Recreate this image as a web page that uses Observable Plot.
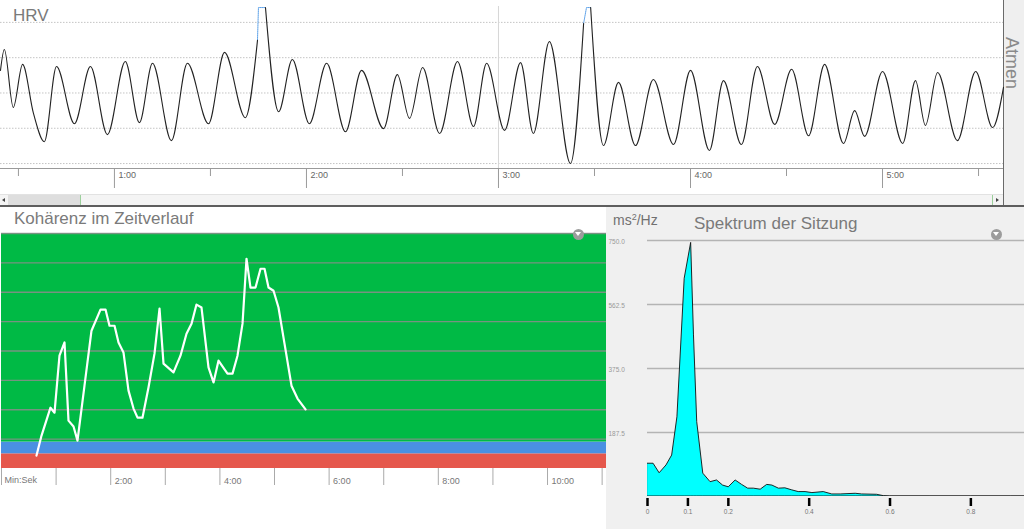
<!DOCTYPE html>
<html>
<head>
<meta charset="utf-8">
<script src="https://cdn.jsdelivr.net/npm/d3@7"></script>
<script src="https://cdn.jsdelivr.net/npm/@observablehq/plot@0.6"></script>
<style>
  html, body { margin:0; padding:0; background:#fff; }
  #root { position:relative; width:1024px; height:529px; overflow:hidden; background:#fff; font-family:"Liberation Sans", Arial, sans-serif; }
  .abs { position:absolute; }
  .title { position:absolute; font-size:17px; line-height:1; color:#7a7a7a; white-space:nowrap; }
  .icon { position:absolute; width:11px; height:11px; border-radius:50%; background:#9c9c9c; }
  .icon::after { content:""; position:absolute; left:2.5px; top:3.5px; border-left:3px solid transparent; border-right:3px solid transparent; border-top:4px solid #fff; }
</style>
</head>
<body>
<div id="root">
  <div class="abs" style="left:1003px;top:0;width:21px;height:205px;background:#efefef"></div>
  <div class="abs" style="left:1003px;top:0;width:1px;height:205px;background:#6a6a6a"></div>
  <div class="abs" style="left:1012px;top:63px;transform:translate(-50%,-50%) rotate(90deg);font-size:18px;line-height:1;color:#8a8a8a;white-space:nowrap">Atmen</div>
  <div class="abs" style="left:0;top:194px;width:1003px;height:11px;background:#f4f4f4;border-top:1px solid #e2e2e2;box-sizing:border-box"></div>
  <div class="abs" style="left:8px;top:195px;width:72px;height:10px;background:#dedede;border-right:1px solid #9ccf9c"></div>
  <div class="abs" style="left:2px;top:198px;width:0;height:0;border-top:2.5px solid transparent;border-bottom:2.5px solid transparent;border-right:3px solid #444"></div>
  <div class="abs" style="left:992px;top:195px;width:11px;height:10px;border-left:1px solid #9ccf9c;box-sizing:border-box"></div>
  <div class="abs" style="left:996px;top:198px;width:0;height:0;border-top:2.5px solid transparent;border-bottom:2.5px solid transparent;border-left:3px solid #444"></div>
  <div class="abs" style="left:0;top:205px;width:1024px;height:2px;background:#5e5e5e"></div>
  <div class="abs" style="left:606px;top:207px;width:418px;height:322px;background:#f0f0f0"></div>

  <div id="hrv" class="abs" style="left:0;top:0"></div>
  <div id="coh" class="abs" style="left:0;top:207px"></div>
  <div id="spec" class="abs" style="left:606px;top:207px"></div>

  <div class="title" style="left:13px;top:7px">HRV</div>
  <div class="title" style="left:14px;top:209.5px">Kohärenz im Zeitverlauf</div>
  <div class="title" style="left:694px;top:214.5px">Spektrum der Sitzung</div>
  <div class="title" style="left:613px;top:213px;font-size:14px;color:#707070">ms<sup style="font-size:9px;vertical-align:5px;line-height:0">2</sup>/Hz</div>
  <div class="icon" style="left:572.5px;top:228.5px"></div>
  <div class="icon" style="left:990.5px;top:228.5px"></div>
</div>
<script>
// ---------- HRV (seconds, bpm) ----------
const hrvT = [24.4, 25.6, 28.4, 31.3, 34.7, 38.1, 41.9, 47.5, 52.5, 57.8, 63.4, 67.8, 71.9, 77.8, 82.8, 89.4, 94.4, 100.9, 104.7,
  107.2, 111.3, 115.6, 120.9, 126.3, 132.2, 137.2, 144.1, 148.4, 152.2, 156.3, 161.6, 167.2, 172.2, 176.3, 181.9, 186.9, 190.9, 195.9, 202.5, 206.6,
  208.8, 212.8, 217.5, 222.8, 228.4, 234.7, 240.0, 245.9, 250.3, 255.9, 260.9, 266.3, 271.6, 276.9, 281.9, 287.8, 291.3, 294.4, 300.0, 306.3, 310.3, 313.4, 317.2, 323.4, 329.1, 334.4, 337.8];
const hrvV = [76.4, 82.3, 65.9, 78.1, 64.2, 56.2, 77.5, 61.3, 77.5, 58.2, 78.9, 61.6, 78.4, 56.5, 78.4, 61.3, 81.5, 63.0, 84.9,
  94.2, 64.7, 79.5, 61.3, 78.4, 59.0, 76.4, 59.9, 75.2, 62.8, 77.2, 58.5, 78.9, 60.5, 78.4, 59.4, 78.6, 58.5, 84.6, 50.0, 89.7,
  94.2, 55.1, 73.0, 55.1, 73.8, 55.4, 76.4, 53.7, 73.5, 55.4, 77.5, 61.1, 76.7, 57.9, 78.1, 55.7, 65.0, 57.7, 76.1, 55.7, 73.5, 60.8, 75.8, 56.5, 76.1, 60.2, 71.6];
const hrvBreaks = [19, 40];           // indices where a new line segment starts (after a clipped peak)
const clipT = [104.7, 105.0, 107.2, 206.6, 207.5, 208.8];
const clipV = [84.9, 94.2, 94.2, 89.7, 94.2, 94.2];
const clipSeg = [0, 0, 0, 1, 1, 1];
const hrvGrid = [50, 60, 70, 80, 90];
const hrvCursor = [180];
const hrvMajor = [60, 120, 180, 240, 300];
const hrvMinor = [30, 90, 150, 210, 270, 330];
const hrvXDomain = [24.4, 337.8];
const hrvYDomain = [48.6, 94.5];

// ---------- Coherence (minutes, score) ----------
const cohMin = [0.641,0.733,0.897,0.971,1.062,1.154,1.227,1.319,1.392,1.520,1.648,1.813,1.905,1.978,2.070,2.143,2.234,2.326,2.418,2.491,2.582,2.692,2.802,2.894,2.967,3.150,3.278,3.388,3.480,3.571,3.663,3.791,3.883,3.974,4.139,4.231,4.322,4.414,4.487,4.560,4.652,4.744,4.817,4.890,4.982,5.073,5.183,5.311,5.421,5.568];
const cohVal = [0.44,1.12,2.07,1.90,3.84,4.29,1.63,1.43,0.95,2.82,4.69,5.41,5.41,4.86,4.86,4.29,3.95,2.65,2.04,1.73,1.73,2.76,3.91,5.44,3.57,3.27,3.84,4.59,4.93,5.58,5.48,3.44,2.93,3.67,3.23,3.23,3.84,4.93,7.14,6.16,6.16,6.80,6.80,6.16,6.05,5.48,4.25,2.82,2.38,2.01];
const bandLo = [0, 0.5, 0.9];
const bandHi = [0.5, 0.9, 8];
const bandColor = ["#e5574c", "#4a90e2", "#00ba45"];
const cohGrid = [1, 2, 3, 4, 5, 6, 7, 8];
const cohTicks = [0, 1, 2, 3, 4, 5, 6, 7, 8, 9, 10, 11];
const cohLabelTicks = [2, 4, 6, 8, 10];
const cohXDomain = [0, 11.08];
const cohYDomain = [0, 8];

// ---------- Spectrum (Hz, ms²/Hz) ----------
const specHz = [0,0.015,0.030,0.047,0.061,0.074,0.092,0.108,0.115,0.123,0.138,0.156,0.172,0.187,0.201,0.218,0.234,0.249,0.263,0.280,0.296,0.309,0.325,0.341,0.358,0.374,0.391,0.408,0.436,0.457,0.478,0.515,0.531,0.568,0.585,0.600,0.700,0.800,0.900,1.000];
const specPow = [96,96,68,91,120,232,638,743,472,218,67,42,47,32,27,47,34,23,23,20,34,32,23,24,18,13,13,10,13,6,6,8,6,5,1,0,0,0,0,0];
const specXTicks = [0, 0.1, 0.2, 0.4, 0.6, 0.8];
const specYTicks = [187.5, 375, 562.5, 750];
const specXDomain = [0, 0.9327];
const specYDomain = [0, 750];

const FONT = '"Liberation Sans", Arial, sans-serif';
const mmss = s => Math.floor(s / 60) + ":" + String(Math.round(s % 60)).padStart(2, "0");
const none = () => "";

const hrvData = hrvT.map((t, i) => ({t, v: hrvV[i], seg: hrvBreaks.filter(b => i >= b).length}));
const clipData = clipT.map((t, i) => ({t, v: clipV[i], seg: clipSeg[i]}));

document.getElementById("hrv").append(Plot.plot({
  width: 1003, height: 195, marginTop: 6, marginBottom: 27, marginLeft: 0, marginRight: 0,
  style: {background: "transparent", fontFamily: FONT, overflow: "visible"},
  x: {domain: hrvXDomain, axis: null, label: null},
  y: {domain: hrvYDomain, axis: null, label: null},
  marks: [
    Plot.ruleY(hrvGrid, {stroke: "#c4c4c4", strokeDasharray: "1.5,1.5"}),
    Plot.ruleX(hrvCursor, {stroke: "#d6d6d6"}),
    Plot.ruleY([hrvYDomain[0]], {stroke: "#9a9a9a"}),
    Plot.axisX({ticks: hrvMajor, tickSize: 20, tickFormat: none, label: null, color: "#9a9a9a"}),
    Plot.axisX({ticks: hrvMinor, tickSize: 8, tickFormat: none, label: null, color: "#9a9a9a"}),
    Plot.axisX({ticks: hrvMajor, tickSize: 0, tickPadding: 3, tickFormat: mmss, label: null, textAnchor: "start", dx: 4, fontSize: 9, color: "#666"}),
    Plot.line(clipData, {x: "t", y: "v", z: "seg", stroke: "#5aa0e8", strokeWidth: 1, strokeDasharray: "1,1"}),
    Plot.line(hrvData, {x: "t", y: "v", z: "seg", curve: "monotone-x", stroke: "#222", strokeWidth: 1.1})
  ]
}));

const bands = bandLo.map((lo, i) => ({lo, hi: bandHi[i], color: bandColor[i]}));
const cohData = cohMin.map((m, i) => ({m, v: cohVal[i]}));

document.getElementById("coh").append(Plot.plot({
  width: 606, height: 322, marginTop: 26, marginBottom: 61, marginLeft: 1, marginRight: 0,
  style: {background: "transparent", fontFamily: FONT, overflow: "visible"},
  x: {domain: cohXDomain, axis: null, label: null},
  y: {domain: cohYDomain, axis: null, label: null},
  color: {type: "identity"},
  marks: [
    Plot.rect(bands, {x1: () => cohXDomain[0], x2: () => cohXDomain[1], y1: "lo", y2: "hi", fill: "color"}),
    Plot.ruleY(cohGrid, {stroke: "#8c8c8c", strokeOpacity: 0.85, strokeWidth: 1.3}),
    Plot.axisX({ticks: cohTicks, tickSize: 17, tickFormat: none, label: null, color: "#aaa"}),
    Plot.axisX({ticks: cohLabelTicks, tickSize: 0, tickPadding: 9.5, tickFormat: d => d + ":00", label: null, textAnchor: "start", dx: 4, fontSize: 9, color: "#777"}),
    Plot.text(["Min:Sek"], {frameAnchor: "bottom-left", dx: 3, dy: 14, textAnchor: "start", fontSize: 9, fill: "#777"}),
    Plot.line(cohData, {x: "m", y: "v", stroke: "white", strokeWidth: 2.2})
  ]
}));

const specData = specHz.map((f, i) => ({f, p: specPow[i]}));

document.getElementById("spec").append(Plot.plot({
  width: 418, height: 322, marginTop: 33, marginBottom: 33, marginLeft: 41, marginRight: 0,
  style: {background: "transparent", fontFamily: FONT, overflow: "visible"},
  x: {domain: specXDomain, axis: null, label: null},
  y: {domain: specYDomain, axis: null, label: null},
  marks: [
    Plot.ruleY(specYTicks, {stroke: "#b4b4b4", strokeWidth: 1.5}),
    Plot.text(specYTicks, {y: d => d, frameAnchor: "left", dx: -39, dy: 1.5, textAnchor: "start", text: d => d.toFixed(1), fontSize: 6.5, fill: "#999"}),
    Plot.areaY(specData, {x: "f", y: "p", fill: "#00ffff", stroke: "#111", strokeWidth: 0.9, clip: true}),
    Plot.axisX({ticks: specXTicks, tickSize: 8, dy: 2, strokeWidth: 2.5, label: null, color: "#000", tickFormat: none}),
    Plot.axisX({ticks: specXTicks, tickSize: 0, tickPadding: 12.5, tickFormat: d => String(d), label: null, fontSize: 6.5, color: "#777"})
  ]
}));
</script>
</body>
</html>
